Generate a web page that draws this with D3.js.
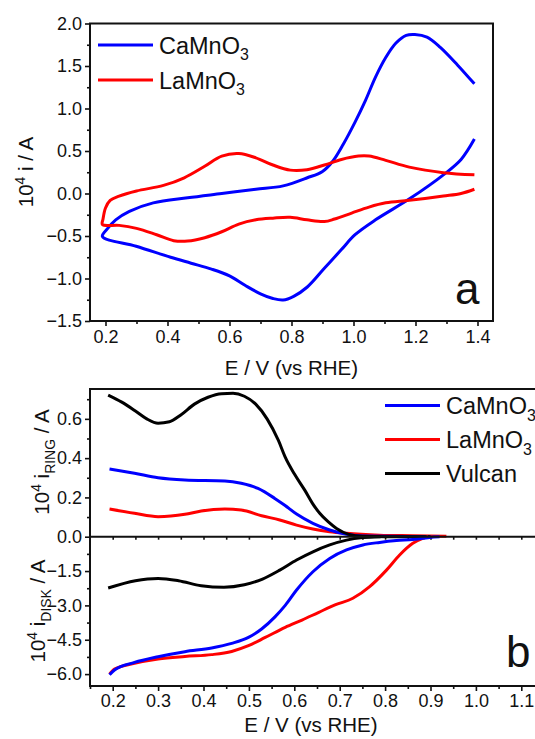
<!DOCTYPE html>
<html>
<head>
<meta charset="utf-8">
<script src="https://cdn.jsdelivr.net/npm/d3@7"></script>
<style>
  body { margin: 0; background: #fff; }
  svg { display: block; font-family: "Liberation Sans", Arial, sans-serif; }
</style>
</head>
<body>
<div id="chart"></div>
<script>
// ---- panel a: cyclic voltammograms, [E (V), 10^4 i (A)] ----
const cvCa = [
  [1.39,0.64],[1.347,0.40],[1.292,0.225],[1.182,-0.06],[1.071,-0.31],[1.005,-0.485],
  [0.961,-0.66],[0.906,-0.88],[0.851,-1.10],[0.807,-1.21],[0.773,-1.253],[0.74,-1.235],
  [0.70,-1.18],[0.65,-1.08],[0.60,-0.97],[0.542,-0.89],[0.476,-0.82],[0.41,-0.75],
  [0.299,-0.62],[0.19,-0.505],
  [0.205,-0.42],[0.233,-0.31],[0.277,-0.21],[0.354,-0.11],[0.465,-0.05],[0.575,0.0],
  [0.685,0.05],[0.773,0.09],[0.851,0.185],[0.90,0.26],[0.933,0.38],[0.967,0.58],
  [1.005,0.84],[1.038,1.09],[1.071,1.37],[1.104,1.60],[1.137,1.77],[1.17,1.86],
  [1.198,1.87],[1.237,1.84],[1.28,1.72],[1.336,1.51],[1.39,1.29]
];
const cvLa = [
  [1.39,0.05],[1.347,0.0],[1.29,-0.03],[1.18,-0.08],[1.104,-0.11],[1.05,-0.16],
  [0.994,-0.23],[0.939,-0.30],[0.906,-0.33],[0.85,-0.31],[0.796,-0.28],[0.74,-0.29],
  [0.685,-0.31],[0.63,-0.36],[0.575,-0.45],[0.52,-0.52],[0.465,-0.56],[0.42,-0.555],
  [0.365,-0.485],[0.30,-0.41],[0.244,-0.375],[0.19,-0.365],
  [0.192,-0.30],[0.20,-0.17],[0.215,-0.08],[0.244,-0.03],[0.30,0.03],[0.387,0.095],
  [0.454,0.185],[0.52,0.32],[0.575,0.44],[0.63,0.47],[0.685,0.42],[0.74,0.335],
  [0.796,0.275],[0.85,0.28],[0.906,0.335],[0.961,0.40],[1.016,0.44],[1.05,0.44],
  [1.104,0.39],[1.18,0.31],[1.29,0.245],[1.39,0.22]
];

// ---- panel b: ring currents, [E, 10^4 i_RING] ----
const ringCa = [
  [0.193,0.345],[0.248,0.323],[0.30,0.30],[0.359,0.289],[0.447,0.284],[0.483,0.272],
  [0.52,0.246],[0.557,0.195],[0.579,0.16],[0.605,0.115],[0.641,0.068],[0.678,0.034],
  [0.715,0.012],[0.75,0.003],[0.90,0.0]
];
const ringLa = [
  [0.193,0.141],[0.248,0.119],[0.30,0.102],[0.359,0.114],[0.395,0.131],[0.447,0.141],
  [0.483,0.136],[0.528,0.107],[0.568,0.085],[0.605,0.059],[0.641,0.039],[0.678,0.025],
  [0.715,0.017],[0.788,0.008],[0.861,0.005],[0.935,0.002]
];
const ringVulcan = [
  [0.19,0.721],[0.22,0.685],[0.25,0.64],[0.275,0.60],[0.30,0.578],[0.325,0.585],
  [0.35,0.62],[0.38,0.675],[0.41,0.71],[0.44,0.728],[0.465,0.73],[0.49,0.715],
  [0.515,0.675],[0.54,0.60],[0.565,0.49],[0.58,0.405],[0.60,0.32],[0.623,0.237],
  [0.64,0.17],[0.656,0.119],[0.675,0.075],[0.693,0.042],[0.72,0.012],[0.75,0.002],
  [0.80,0.0],[0.90,0.0]
];

// ---- panel b: disk currents, [E, 10^4 i_DISK] ----
const diskCa = [
  [0.193,-6.03],[0.204,-5.82],[0.248,-5.49],[0.30,-5.24],[0.359,-5.02],[0.418,-4.86],
  [0.462,-4.66],[0.499,-4.40],[0.528,-4.03],[0.558,-3.49],[0.58,-3.0],[0.605,-2.33],
  [0.641,-1.53],[0.678,-0.95],[0.715,-0.58],[0.751,-0.36],[0.788,-0.25],[0.825,-0.17],
  [0.861,-0.12],[0.883,-0.07],[0.898,-0.03],[0.92,0.0]
];
const diskLa = [
  [0.193,-6.0],[0.204,-5.78],[0.248,-5.53],[0.30,-5.34],[0.359,-5.23],[0.418,-5.15],
  [0.462,-5.01],[0.499,-4.76],[0.536,-4.40],[0.58,-3.96],[0.617,-3.64],[0.654,-3.30],
  [0.691,-2.97],[0.729,-2.69],[0.766,-2.18],[0.803,-1.46],[0.832,-0.80],[0.861,-0.29],
  [0.883,-0.07],[0.895,0.0]
];
const diskVulcan = [
  [0.19,-2.24],[0.25,-1.92],[0.30,-1.82],[0.345,-1.92],[0.395,-2.14],[0.445,-2.21],
  [0.49,-2.10],[0.53,-1.85],[0.568,-1.46],[0.605,-1.02],[0.641,-0.66],[0.678,-0.36],
  [0.715,-0.15],[0.751,-0.04],[0.79,0.0]
];

// ticks
const aTicksX = [0.2,0.4,0.6,0.8,1.0,1.2,1.4];
const aTicksY = [-1.5,-1.0,-0.5,0.0,0.5,1.0,1.5,2.0];
const bTicksX = [0.2,0.3,0.4,0.5,0.6,0.7,0.8,0.9,1.0,1.1];
const ringTicks = [0.0,0.2,0.4,0.6];
const diskTicks = [-1.5,-3.0,-4.5,-6.0];

const width = 535, height = 739;
const blue = "#0000ff", red = "#ff0000", black = "#000000";
const ink = "#111";

const svg = d3.select("#chart")
  .append("svg")
  .attr("width", width)
  .attr("height", height);

function range(a, b, step) {
  let out = [];
  for (let v = a; v <= b + 1e-9; v += step) out.push(+v.toFixed(4));
  return out;
}

// text with super/subscripts: parts = [[str, "sup"|"sub"|null], ...]
function richText(sel, parts, size) {
  let shift = 0;
  for (let [s, kind] of parts) {
    let t = sel.append("tspan").text(s);
    let target = kind === "sup" ? -size * 0.4 : kind === "sub" ? size * 0.28 : 0;
    t.attr("dy", target - shift);
    shift = target;
    if (kind) t.attr("font-size", size * 0.68);
  }
}

function styleAxis(g, fontSize) {
  g.selectAll(".domain").remove();
  g.selectAll(".tick line").attr("stroke", ink).attr("stroke-width", 1.6);
  g.selectAll(".tick text").attr("fill", ink).attr("font-size", fontSize).attr("font-family", "Liberation Sans, Arial, sans-serif");
}

// ================= panel a =================
let xA = d3.scaleLinear().domain([0.15, 1.45]).range([90, 493]);
let yA = d3.scaleLinear().domain([-1.5, 2.0]).range([321, 23.5]);

svg.append("g")
  .attr("transform", `translate(0,${yA.range()[0]})`)
  .call(d3.axisBottom(xA).tickValues(range(0.3, 1.3, 0.2)).tickSize(3).tickFormat(""))
  .call(g => styleAxis(g, 18));
svg.append("g")
  .attr("transform", `translate(0,${yA.range()[0]})`)
  .call(d3.axisBottom(xA).tickValues(aTicksX).tickSize(5).tickPadding(4).tickFormat(d3.format(".1f")))
  .call(g => styleAxis(g, 18));
svg.append("g")
  .attr("transform", `translate(${xA.range()[0]},0)`)
  .call(d3.axisLeft(yA).tickValues(range(-1.25, 1.75, 0.5)).tickSize(3).tickFormat(""))
  .call(g => styleAxis(g, 18));
svg.append("g")
  .attr("transform", `translate(${xA.range()[0]},0)`)
  .call(d3.axisLeft(yA).tickValues(aTicksY).tickSize(5).tickPadding(3).tickFormat(d3.format(".1f")))
  .call(g => styleAxis(g, 18));

svg.append("clipPath").attr("id", "clipA")
  .append("rect").attr("x", 90).attr("y", 23.5).attr("width", 403).attr("height", 297.5);

let gA = svg.append("g").attr("clip-path", "url(#clipA)");
let lineA = d3.line().curve(d3.curveCatmullRom.alpha(0.5)).x(d => xA(d[0])).y(d => yA(d[1]));
gA.append("path").datum(cvCa).attr("fill", "none").attr("stroke", blue).attr("stroke-width", 3).attr("d", lineA);
gA.append("path").datum(cvLa).attr("fill", "none").attr("stroke", red).attr("stroke-width", 3).attr("d", lineA);

svg.append("rect")
  .attr("x", 90).attr("y", 23.5).attr("width", 403).attr("height", 297.5)
  .attr("fill", "none").attr("stroke", ink).attr("stroke-width", 2);

// legend a
[["CaMnO", blue, 45], ["LaMnO", red, 80]].forEach(([name, c, y]) => {
  svg.append("line").attr("x1", 98).attr("x2", 153).attr("y1", y).attr("y2", y)
    .attr("stroke", c).attr("stroke-width", 3);
  let t = svg.append("text").attr("x", 159).attr("y", y + 8.5)
    .attr("font-size", 23.5).attr("fill", ink);
  richText(t, [[name, null], ["3", "sub"]], 23.5);
});

svg.append("text").attr("x", 455).attr("y", 303.5).attr("font-size", 44).attr("fill", ink).text("a");

svg.append("text").attr("x", 291.5).attr("y", 375).attr("text-anchor", "middle")
  .attr("font-size", 20.5).attr("fill", ink).text("E / V (vs RHE)");

let tA = svg.append("text").attr("transform", "translate(33,172) rotate(-90)")
  .attr("text-anchor", "middle").attr("font-size", 20.5).attr("fill", ink);
richText(tA, [["10", null], ["4", "sup"], [" i / A", null]], 20.5);

// ================= panel b =================
const bLeft = 90, bTop = 389, bMid = 536.7, bBottom = 686;
let xB = d3.scaleLinear().domain([0.15, 1.2]).range([bLeft, bLeft + 1.05 * 454]);
let yRing = d3.scaleLinear().domain([0, 0.752]).range([bMid, bTop]);
let yDisk = d3.scaleLinear().domain([-6.52, 0]).range([bBottom, bMid]);

// bottom axis
svg.append("g")
  .attr("transform", `translate(0,${bBottom})`)
  .call(d3.axisBottom(xB).tickValues(range(0.15, 1.15, 0.1)).tickSize(3).tickFormat(""))
  .call(g => styleAxis(g, 18));
svg.append("g")
  .attr("transform", `translate(0,${bBottom})`)
  .call(d3.axisBottom(xB).tickValues(bTicksX).tickSize(5).tickPadding(3).tickFormat(d3.format(".1f")))
  .call(g => styleAxis(g, 18));
// middle axis ticks
svg.append("g")
  .attr("transform", `translate(0,${bMid})`)
  .call(d3.axisBottom(xB).tickValues(range(0.2, 1.15, 0.05)).tickSize(3).tickFormat(""))
  .call(g => styleAxis(g, 18));

// ring y axis
svg.append("g")
  .attr("transform", `translate(${bLeft},0)`)
  .call(d3.axisLeft(yRing).tickValues([0.1, 0.3, 0.5, 0.7]).tickSize(3).tickFormat(""))
  .call(g => styleAxis(g, 18));
svg.append("g")
  .attr("transform", `translate(${bLeft},0)`)
  .call(d3.axisLeft(yRing).tickValues(ringTicks).tickSize(5).tickPadding(3).tickFormat(d3.format(".1f")))
  .call(g => styleAxis(g, 18));
// disk y axis
svg.append("g")
  .attr("transform", `translate(${bLeft},0)`)
  .call(d3.axisLeft(yDisk).tickValues([-0.75, -2.25, -3.75, -5.25]).tickSize(3).tickFormat(""))
  .call(g => styleAxis(g, 18));
svg.append("g")
  .attr("transform", `translate(${bLeft},0)`)
  .call(d3.axisLeft(yDisk).tickValues(diskTicks).tickSize(5).tickPadding(3).tickFormat(d3.format(".1f")))
  .call(g => styleAxis(g, 18));

svg.append("clipPath").attr("id", "clipB")
  .append("rect").attr("x", bLeft).attr("y", bTop).attr("width", width - bLeft).attr("height", bBottom - bTop);

let gB = svg.append("g").attr("clip-path", "url(#clipB)");
let lineRing = d3.line().curve(d3.curveMonotoneX).x(d => xB(d[0])).y(d => yRing(d[1]));
let lineDisk = d3.line().curve(d3.curveMonotoneX).x(d => xB(d[0])).y(d => yDisk(d[1]));

[[ringLa, red], [ringCa, blue], [ringVulcan, black]].forEach(([d, c]) => {
  gB.append("path").datum(d).attr("fill", "none").attr("stroke", c).attr("stroke-width", 3).attr("d", lineRing);
});
[[diskVulcan, black], [diskLa, red], [diskCa, blue]].forEach(([d, c]) => {
  gB.append("path").datum(d).attr("fill", "none").attr("stroke", c).attr("stroke-width", 3).attr("d", lineDisk);
});

// frame lines
svg.append("path")
  .attr("d", `M${width + 5},${bTop}H${bLeft}V${bBottom}H${width + 5}M${bLeft},${bMid}H${width + 5}`)
  .attr("fill", "none").attr("stroke", ink).attr("stroke-width", 2);

// legend b
[["CaMnO", blue, 405.5, true], ["LaMnO", red, 439.5, true], ["Vulcan", black, 473.5, false]].forEach(([name, c, y, sub]) => {
  svg.append("line").attr("x1", 385).attr("x2", 440).attr("y1", y).attr("y2", y)
    .attr("stroke", c).attr("stroke-width", 3);
  let t = svg.append("text").attr("x", 446).attr("y", y + 8.5)
    .attr("font-size", 23.5).attr("fill", ink);
  richText(t, sub ? [[name, null], ["3", "sub"]] : [[name, null]], 23.5);
});

svg.append("text").attr("x", 506).attr("y", 667).attr("font-size", 44).attr("fill", ink).text("b");

svg.append("text").attr("x", 311).attr("y", 732).attr("text-anchor", "middle")
  .attr("font-size", 20.5).attr("fill", ink).text("E / V (vs RHE)");

let tR = svg.append("text").attr("transform", "translate(49,462) rotate(-90)")
  .attr("text-anchor", "middle").attr("font-size", 20.5).attr("fill", ink);
richText(tR, [["10", null], ["4", "sup"], [" i", null], ["RING", "sub"], [" / A", null]], 20.5);

let tD = svg.append("text").attr("transform", "translate(45,611) rotate(-90)")
  .attr("text-anchor", "middle").attr("font-size", 20.5).attr("fill", ink);
richText(tD, [["10", null], ["4", "sup"], [" i", null], ["DISK", "sub"], [" / A", null]], 20.5);
</script>
</body>
</html>
